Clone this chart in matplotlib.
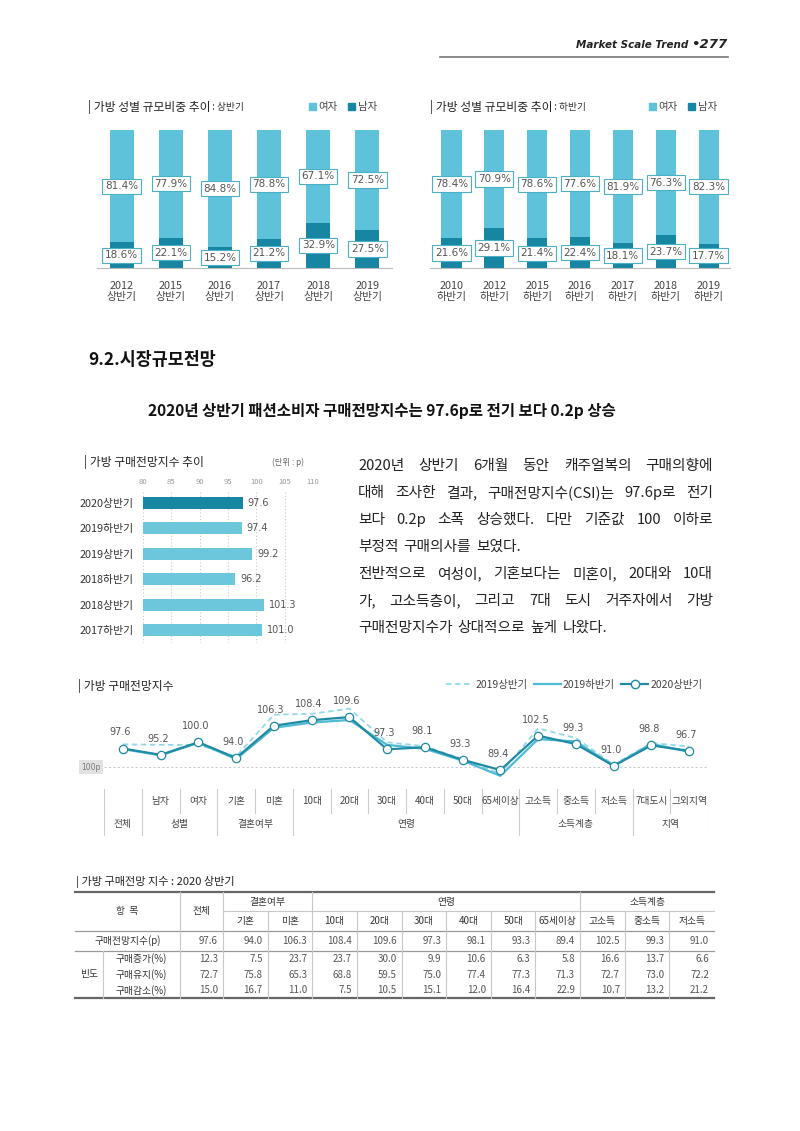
import matplotlib
matplotlib.use("Agg")
import matplotlib.pyplot as plt
from matplotlib.patches import Patch
from matplotlib.lines import Line2D

plt.rcParams['font.family'] = ['Noto Sans CJK KR', 'DejaVu Sans']

# ---- data ----
h1_years = ['2012', '2015', '2016', '2017', '2018', '2019']
h1_female = [81.4, 77.9, 84.8, 78.8, 67.1, 72.5]
h1_male = [18.6, 22.1, 15.2, 21.2, 32.9, 27.5]

h2_years = ['2010', '2012', '2015', '2016', '2017', '2018', '2019']
h2_female = [78.4, 70.9, 78.6, 77.6, 81.9, 76.3, 82.3]
h2_male = [21.6, 29.1, 21.4, 22.4, 18.1, 23.7, 17.7]

csi_periods = ['2020상반기', '2019하반기', '2019상반기', '2018하반기', '2018상반기', '2017하반기']
csi_values = [97.6, 97.4, 99.2, 96.2, 101.3, 101.0]

seg_names = ['', '남자', '여자', '기혼', '미혼', '10대', '20대', '30대', '40대', '50대',
             '65세이상', '고소득', '중소득', '저소득', '7대도시', '그외지역']
seg_groups = [('전체', 1), ('성별', 2), ('결혼여부', 2), ('연령', 6), ('소득계층', 3), ('지역', 2)]
csi_2019h1 = [99.2, 99.0, 99.0, 94.6, 110.5, 110.8, 112.8, 100.0, 98.5, 93.5, 88.0,
              105.3, 101.6, 91.4, 99.7, 98.4]
csi_2019h2 = [97.4, 95.0, 99.8, 93.6, 105.5, 107.5, 108.5, 99.0, 97.5, 93.0, 87.2,
              101.2, 100.3, 91.0, 99.4, 96.3]
csi_2020h1 = [97.6, 95.2, 100.0, 94.0, 106.3, 108.4, 109.6, 97.3, 98.1, 93.3, 89.4,
              102.5, 99.3, 91.0, 98.8, 96.7]

tbl_cols = ['전체', '기혼', '미혼', '10대', '20대', '30대', '40대', '50대', '65세이상',
            '고소득', '중소득', '저소득']
tbl_groups = [('결혼여부', 1, 3), ('연령', 3, 9), ('소득계층', 9, 12)]
tbl_index = [97.6, 94.0, 106.3, 108.4, 109.6, 97.3, 98.1, 93.3, 89.4, 102.5, 99.3, 91.0]
tbl_up = [12.3, 7.5, 23.7, 23.7, 30.0, 9.9, 10.6, 6.3, 5.8, 16.6, 13.7, 6.6]
tbl_keep = [72.7, 75.8, 65.3, 68.8, 59.5, 75.0, 77.4, 77.3, 71.3, 72.7, 73.0, 72.2]
tbl_down = [15.0, 16.7, 11.0, 7.5, 10.5, 15.1, 12.0, 16.4, 22.9, 10.7, 13.2, 21.2]

para_lines = [
    "2020년 상반기 6개월 동안 캐주얼복의 구매의향에",
    "대해 조사한 결과, 구매전망지수(CSI)는 97.6p로 전기",
    "보다 0.2p 소폭 상승했다. 다만 기준값 100 이하로",
    "부정적 구매의사를 보였다.",
    "전반적으로 여성이, 기혼보다는 미혼이, 20대와 10대",
    "가, 고소득층이, 그리고 7대 도시 거주자에서 가방",
    "구매전망지수가 상대적으로 높게 나왔다.",
]
para_justify = [True, True, True, False, True, True, False]

# ---- colours ----
LIGHT = '#5EC3DA'
DARK = '#1686A2'
HBAR = '#6DC7DC'
BOXEDGE = '#4BAFC8'
GRAY = '#555555'

W, H = 800, 1131
fig = plt.figure(figsize=(8, 11.31), dpi=100)
pg = fig.add_axes([0, 0, 1, 1])
pg.set_xlim(0, W)
pg.set_ylim(H, 0)
pg.axis('off')
renderer = fig.canvas.get_renderer()


def axes_px(x0, y0, x1, y1):
    return fig.add_axes([x0 / W, 1 - y1 / H, (x1 - x0) / W, (y1 - y0) / H])


def text_w(s, **kw):
    t = pg.text(0, 0, s, **kw)
    w = t.get_window_extent(renderer=renderer).width
    t.remove()
    return w


def runs(x, y, parts):
    # draw several text pieces one after another
    for s, kw in parts:
        pg.text(x, y, s, va='center', ha='left', **kw)
        x += text_w(s, **kw)


# ---- page header ----
hdr_kw = dict(family='DejaVu Sans', style='italic', weight='bold', color='#222')
w277 = text_w('•277', fontsize=9.5, **hdr_kw)
pg.text(727, 44, '•277', fontsize=9.5, ha='right', va='center', **hdr_kw)
pg.text(727 - w277 - 3, 45, 'Market Scale Trend', fontsize=7.5, ha='right', va='center', **hdr_kw)
pg.plot([440, 728], [57, 57], color='#777', lw=1.2)


# ---- gender share charts ----
def gender_chart(x0, x1, years, half, female, male, width, title_x, title_sub, leg_x):
    ax = axes_px(x0, 130, x1, 268)
    x = list(range(len(years)))
    ax.bar(x, male, width, color=DARK)
    ax.bar(x, female, width, bottom=male, color=LIGHT)
    box = dict(boxstyle='square,pad=0.25', fc='white', ec=BOXEDGE, lw=0.8)
    for i, (f, m) in enumerate(zip(female, male)):
        ax.text(i, m + f / 2, f'{f}%', ha='center', va='center', fontsize=7.5,
                color=GRAY, bbox=box, family='DejaVu Sans')
        ax.text(i, m / 2, f'{m}%', ha='center', va='center', fontsize=7.5,
                color=GRAY, bbox=box, family='DejaVu Sans')
    ax.set_xlim(-0.5, len(years) - 0.5)
    ax.set_ylim(0, 100)
    ax.set_xticks(x, [f'{y}\n{half}' for y in years])
    ax.tick_params(axis='x', length=0, pad=9, labelsize=7.8, labelcolor='#444')
    ax.set_yticks([])
    for s in ['top', 'right', 'left']:
        ax.spines[s].set_visible(False)
    ax.spines['bottom'].set_color('#bbbbbb')
    runs(title_x, 107, [('| 가방 성별 규모비중 추이', dict(fontsize=8.5, color='#222')),
                        (' : ' + title_sub, dict(fontsize=7, color='#333'))])
    fig.legend(handles=[Patch(color=LIGHT), Patch(color=DARK)], labels=['여자', '남자'],
               loc='center left', bbox_to_anchor=(leg_x / W, 1 - 107 / H), ncol=2,
               frameon=False, fontsize=7.5, handlelength=0.6, handleheight=0.6,
               handletextpad=0.3, columnspacing=1.0, labelcolor='#444')


gender_chart(97, 392, h1_years, '상반기', h1_female, h1_male, 0.49, 88, '상반기', 300)
gender_chart(430, 730, h2_years, '하반기', h2_female, h2_male, 0.47, 430, '하반기', 640)

# ---- section headings ----
pg.text(88, 360, '9.2.시장규모전망', fontsize=12.5, weight='bold', va='center', color='#111')
pg.text(382, 411, '2020년 상반기 패션소비자 구매전망지수는 97.6p로 전기 보다 0.2p 상승',
        fontsize=11.2, weight='bold', ha='center', va='center', color='#111')

# ---- horizontal bar chart ----
pg.text(84, 462, '| 가방 구매전망지수 추이', fontsize=8.5, va='center', color='#222')
pg.text(272, 462, '(단위 : p)', fontsize=6, va='center', color='#666')
hx = axes_px(143, 490, 313, 643)
ypos = list(range(len(csi_periods)))
hx.barh(ypos, csi_values, height=0.48, color=[DARK] + [HBAR] * (len(csi_values) - 1), zorder=2)
for yv, v in zip(ypos, csi_values):
    hx.text(v + 0.9, yv, f'{v:.1f}', va='center', ha='left', fontsize=7, color=GRAY,
            family='DejaVu Sans')
hx.set_xlim(80, 110)
hx.set_ylim(len(csi_periods) - 0.5, -0.5)
hx.set_xticks(range(80, 111, 5))
hx.xaxis.tick_top()
hx.tick_params(axis='x', length=0, labelsize=5.5, labelcolor='#999', pad=3)
hx.set_yticks(ypos, csi_periods)
hx.tick_params(axis='y', length=0, labelsize=7.8, labelcolor='#333', pad=7)
hx.grid(axis='x', linestyle=(0, (1, 2)), color='#c8c8c8', lw=0.8, zorder=0)
for s in hx.spines.values():
    s.set_visible(False)

# ---- paragraph (justified) ----
pfont = dict(fontsize=10.6, color='#222')
px0, px1 = 358, 713
space_w = text_w('가 가', **pfont) - text_w('가가', **pfont)
for k, (line, just) in enumerate(zip(para_lines, para_justify)):
    y = 466 + k * 27
    words = line.split(' ')
    widths = [text_w(wd, **pfont) for wd in words]
    gap = (px1 - px0 - sum(widths)) / (len(words) - 1) if just else space_w * 1.6
    x = px0
    for wd, wv in zip(words, widths):
        pg.text(x, y, wd, va='center', ha='left', **pfont)
        x += wv + gap

# ---- line chart ----
pg.text(78, 686, '| 가방 구매전망지수', fontsize=8.5, va='center', color='#222')
lx = axes_px(104, 700, 708, 785)
xi = list(range(len(seg_names)))
lx.plot(xi, csi_2019h1, color='#93D8E8', lw=1.3, ls=(0, (3, 2)), zorder=2)
lx.plot(xi, csi_2019h2, color='#4EBBD3', lw=1.6, zorder=3)
lx.plot(xi, csi_2020h1, color='#1F8AA4', lw=1.6, marker='o', ms=6, mfc='white',
        mec='#1F8AA4', mew=0.9, zorder=4)
for i, v in zip(xi, csi_2020h1):
    lx.annotate(f'{v:.1f}', (i, v), xytext=(-2, 8), textcoords='offset points',
                ha='center', va='bottom', fontsize=7, color=GRAY, family='DejaVu Sans')
lx.set_xlim(-0.5, len(seg_names) - 0.5)
lx.set_ylim(83.7, 116.1)
lx.axhline(90.5, color='#cccccc', lw=0.8, ls=(0, (2, 2)), zorder=1)
lx.axis('off')
pg.text(91, 767, '100p', fontsize=5.5, ha='center', va='center', color='#777',
        family='DejaVu Sans', bbox=dict(boxstyle='square,pad=0.3', fc='#e2e2e2', ec='none'))
fig.legend(handles=[Line2D([], [], color='#93D8E8', lw=1.3, ls=(0, (3, 2))),
                    Line2D([], [], color='#4EBBD3', lw=1.6),
                    Line2D([], [], color='#1F8AA4', lw=1.6, marker='o', ms=6, mfc='white')],
           labels=['2019상반기', '2019하반기', '2020상반기'],
           loc='center right', bbox_to_anchor=(712 / W, 1 - 685 / H), ncol=3, frameon=False,
           fontsize=7.5, handlelength=2.6, handletextpad=0.2, columnspacing=0.6,
           labelcolor='#444')

# category strip under the line chart
cx = axes_px(104, 789, 708, 836)
cx.set_xlim(-0.5, len(seg_names) - 0.5)
cx.set_ylim(2, 0)
cx.axis('off')
for i, nm in enumerate(seg_names):
    cx.text(i, 0.5, nm, ha='center', va='center', fontsize=7, color='#444')
for b in range(len(seg_names) + 1):
    cx.plot([b - 0.5, b - 0.5], [0, 1], color='#cccccc', lw=0.8)
start = 0
for g, n in seg_groups:
    cx.text(start + (n - 1) / 2, 1.5, g, ha='center', va='center', fontsize=7, color='#444')
    cx.plot([start - 0.5, start - 0.5], [1, 2], color='#cccccc', lw=0.8)
    start += n
cx.plot([start - 0.5, start - 0.5], [1, 2], color='#cccccc', lw=0.8)

# ---- table ----
pg.text(76, 882, '| 가방 구매전망 지수 : 2020 상반기', fontsize=8, va='center', color='#222')
tl, tr = 75, 714
c_item, c_all = 180, 223
cw = (tr - c_all) / (len(tbl_cols) - 1)
edges = [c_item, c_all] + [c_all + cw * k for k in range(1, len(tbl_cols))]
y_top, y_h1, y_h2, y_d1, y_bot = 892, 911, 931, 951, 998
lc = '#c8c8c8'
tfs = 7
pg.plot([tl, tr], [y_top, y_top], color='#666', lw=1.6)
pg.plot([tl, tr], [y_bot, y_bot], color='#666', lw=1.6)
pg.plot([c_all, tr], [y_h1, y_h1], color=lc, lw=0.8)
pg.plot([tl, tr], [y_h2, y_h2], color='#999', lw=0.9)
pg.plot([tl, tr], [y_d1, y_d1], color='#999', lw=0.9)
group_edges = [edges[g[1]] for g in tbl_groups]
for e in edges[:-1]:
    top = y_top if (e in (c_item, c_all) or e in group_edges) else y_h1
    pg.plot([e, e], [top, y_bot], color=lc, lw=0.8)
pg.plot([103, 103], [y_d1, y_bot], color=lc, lw=0.8)

pg.text((tl + c_item) / 2, y_h1, '항  목', ha='center', va='center', fontsize=tfs, color='#333')
pg.text((c_item + c_all) / 2, y_h1, tbl_cols[0], ha='center', va='center', fontsize=tfs, color='#333')
for g, a, b in tbl_groups:
    pg.text((edges[a] + edges[b]) / 2, (y_top + y_h1) / 2, g, ha='center', va='center',
            fontsize=tfs, color='#333')
for j in range(1, len(tbl_cols)):
    pg.text((edges[j] + edges[j + 1]) / 2, (y_h1 + y_h2) / 2, tbl_cols[j], ha='center',
            va='center', fontsize=tfs, color='#333')

pg.text((tl + c_item) / 2, (y_h2 + y_d1) / 2, '구매전망지수(p)', ha='center', va='center',
        fontsize=tfs, color='#333')
row_h = (y_bot - y_d1) / 3
freq_rows = [('구매증가(%)', tbl_up), ('구매유지(%)', tbl_keep), ('구매감소(%)', tbl_down)]
pg.text(89, (y_d1 + y_bot) / 2, '빈도', ha='center', va='center', fontsize=tfs, color='#333')
for j, v in enumerate(tbl_index):
    pg.text(edges[j + 1] - 5, (y_h2 + y_d1) / 2, f'{v:.1f}', ha='right', va='center',
            fontsize=tfs, color=GRAY)
for r, (name, vals) in enumerate(freq_rows):
    yc = y_d1 + row_h * (r + 0.5)
    pg.text(141, yc, name, ha='center', va='center', fontsize=tfs, color='#333')
    for j, v in enumerate(vals):
        pg.text(edges[j + 1] - 5, yc, f'{v:.1f}', ha='right', va='center',
                fontsize=tfs, color=GRAY)

fig.savefig('out.png', dpi=100)
